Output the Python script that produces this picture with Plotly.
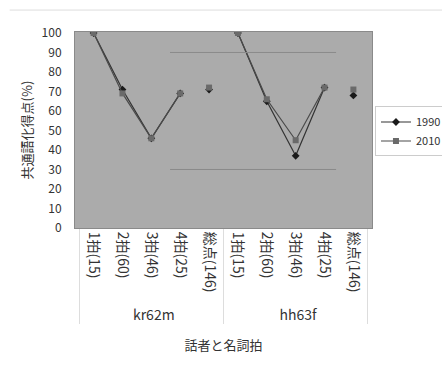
import plotly.graph_objects as go

speakers = ["kr62m"] * 5 + ["hh63f"] * 5
beats = ["1拍(15)", "2拍(60)", "3拍(46)", "4拍(25)", "総点(146)"] * 2
y1990 = [100, 71, 46, 69, 71, 100, 65, 37, 72, 68]
y2010 = [100, 69, 46, 69, 72, 100, 66, 45, 72, 71]
yticks = list(range(0, 101, 10))

total_idx = [4, 9]

def line_part(vals):
    return [None if i in total_idx else v for i, v in enumerate(vals)]

def total_part(vals):
    return [v if i in total_idx else None for i, v in enumerate(vals)]

x = [speakers, beats]
fig = go.Figure()
series = [
    ("1990", y1990, "#1a1a1a", "#333333", "diamond", 6),
    ("2010", y2010, "#6a6a6a", "#4a4a4a", "square", 6),
]
for name, vals, mcol, lcol, sym, size in series:
    fig.add_trace(go.Scatter(
        x=x, y=line_part(vals), name=name, mode="lines+markers",
        legendgroup=name, connectgaps=False,
        line=dict(color=lcol, width=1.2),
        marker=dict(symbol=sym, size=size, color=mcol),
    ))
    fig.add_trace(go.Scatter(
        x=x, y=total_part(vals), name=name, mode="markers",
        legendgroup=name, showlegend=False,
        marker=dict(symbol=sym, size=size, color=mcol),
    ))

fig.update_layout(
    width=442, height=366,
    margin=dict(l=75, r=70, t=32, b=138, autoexpand=False),
    paper_bgcolor="white", plot_bgcolor="#ababab",
    font=dict(family="Noto Sans CJK JP", size=12, color="#333333"),
    legend=dict(x=1.01, y=0.62, xanchor="left", yanchor="top",
                bordercolor="#cccccc", borderwidth=1, bgcolor="white",
                font=dict(size=11), tracegroupgap=0, itemwidth=30),
    showlegend=True,
    shapes=[
        dict(type="line", xref="paper", yref="y", x0=0.32, x1=0.879, y0=90, y1=90,
             line=dict(color="#8a8a8a", width=1)),
        dict(type="line", xref="paper", yref="y", x0=0.32, x1=0.879, y0=30, y1=30,
             line=dict(color="#8a8a8a", width=1)),
        dict(type="line", xref="paper", yref="paper", x0=-0.22, x1=1.25, y0=1.112, y1=1.112,
             line=dict(color="#dddddd", width=1)),
    ],
)
fig.update_xaxes(
    type="multicategory", tickangle=90, showgrid=False,
    showline=True, linecolor="#8a8a8a", mirror=True,
    showdividers=True, dividercolor="#dddddd", dividerwidth=1,
    tickfont=dict(size=14),
    title=dict(text="話者と名詞拍", font=dict(size=13), standoff=18),
)
fig.update_yaxes(
    range=[0, 100.5], tickvals=yticks, showgrid=False,
    showline=True, linecolor="#8a8a8a", mirror=True,
    ticks="", ticklabelstandoff=10, tickfont=dict(size=12),
    title=dict(text="共通語化得点(%)", font=dict(size=13), standoff=6),
    zeroline=False,
)
fig.write_html("out.html")
